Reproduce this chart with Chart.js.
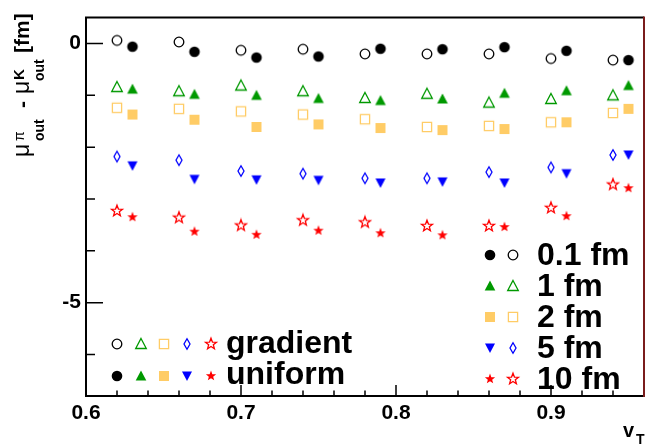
<!DOCTYPE html>
<html>
<head>
<meta charset="utf-8">
<script src="https://cdn.jsdelivr.net/npm/chart.js@4/dist/chart.umd.min.js"></script>
<style>
  html, body { margin: 0; padding: 0; background: #fff; }
  #wrap { width: 651px; height: 445px; }
</style>
</head>
<body>
<div id="wrap"><canvas id="chart" width="651" height="445"></canvas></div>
<script>
// v_T positions: gradient points sit left, uniform points right
const vtGradient = [0.62, 0.66, 0.70, 0.74, 0.78, 0.82, 0.86, 0.90, 0.94];
const vtUniform = [0.63, 0.67, 0.71, 0.75, 0.79, 0.83, 0.87, 0.91, 0.95];

// mu_out(pi) - mu_out(K) in fm
const grad01 = [0.06, 0.03, -0.13, -0.11, -0.20, -0.20, -0.20, -0.29, -0.32];
const unif01 = [-0.06, -0.16, -0.27, -0.25, -0.10, -0.11, -0.07, -0.14, -0.32];
const grad1 = [-0.84, -0.92, -0.81, -0.92, -1.05, -0.97, -1.14, -1.07, -1.00];
const unif1 = [-0.88, -0.98, -1.00, -1.06, -1.10, -1.07, -0.96, -0.91, -0.81];
const grad2 = [-1.24, -1.26, -1.31, -1.37, -1.46, -1.61, -1.59, -1.52, -1.34];
const unif2 = [-1.37, -1.47, -1.61, -1.56, -1.63, -1.67, -1.65, -1.52, -1.26];
const grad5 = [-2.18, -2.25, -2.46, -2.51, -2.60, -2.60, -2.48, -2.39, -2.15];
const unif5 = [-2.36, -2.62, -2.63, -2.64, -2.69, -2.67, -2.69, -2.51, -2.15];
const grad10 = [-3.23, -3.36, -3.51, -3.41, -3.45, -3.52, -3.52, -3.17, -2.72];
const unif10 = [-3.35, -3.63, -3.69, -3.61, -3.66, -3.70, -3.54, -3.33, -2.79];

const sizeLabels = ["0.1 fm", "1 fm", "2 fm", "5 fm", "10 fm"];
const modelLabels = ["gradient", "uniform"];
const xTickLabels = ["0.6", "0.7", "0.8", "0.9"];
const yTickLabels = ["0", "-5"];

const FONT = '"Liberation Sans", Arial, Helvetica, sans-serif';
const colors = ["#000000", "#009900", "#ffcc66", "#0000ff", "#ff0000"];

function makeMarker(shape, color, filled) {
    const c = document.createElement("canvas");
    c.width = 16;
    c.height = 16;
    const g = c.getContext("2d");
    g.translate(8, 8);
    g.strokeStyle = color;
    g.fillStyle = color;
    g.lineWidth = 1.3;
    g.beginPath();
    if (shape === "circle") {
        g.arc(0, 0, filled ? 5.3 : 4.8, 0, Math.PI * 2);
    } else if (shape === "triangle") {
        g.moveTo(0, -5.5);
        g.lineTo(5.3, 4.5);
        g.lineTo(-5.3, 4.5);
        g.closePath();
    } else if (shape === "square") {
        if (filled) g.rect(-5, -5, 10, 10);
        else g.rect(-4.6, -4.6, 9.2, 9.2);
    } else if (shape === "diamond") {
        g.moveTo(0, -5.3);
        g.lineTo(3, 0);
        g.lineTo(0, 5.3);
        g.lineTo(-3, 0);
        g.closePath();
    } else if (shape === "down") {
        g.moveTo(-5, -4.5);
        g.lineTo(5, -4.5);
        g.lineTo(0, 5);
        g.closePath();
    } else if (shape === "star") {
        const ro = filled ? 5.4 : 5.8;
        const ri = ro * 0.42;
        for (let i = 0; i < 10; i++) {
            const r = i % 2 ? ri : ro;
            const a = -Math.PI / 2 + (i * Math.PI) / 5;
            if (i === 0) g.moveTo(r * Math.cos(a), r * Math.sin(a));
            else g.lineTo(r * Math.cos(a), r * Math.sin(a));
        }
        g.closePath();
    }
    if (filled) g.fill();
    else g.stroke();
    return c;
}

const openMarkers = [
    makeMarker("circle", colors[0], false),
    makeMarker("triangle", colors[1], false),
    makeMarker("square", colors[2], false),
    makeMarker("diamond", colors[3], false),
    makeMarker("star", colors[4], false),
];
const filledMarkers = [
    makeMarker("circle", colors[0], true),
    makeMarker("triangle", colors[1], true),
    makeMarker("square", colors[2], true),
    makeMarker("down", colors[3], true),
    makeMarker("star", colors[4], true),
];

const gradientSeries = [grad01, grad1, grad2, grad5, grad10];
const uniformSeries = [unif01, unif1, unif2, unif5, unif10];

function toPoints(xs, ys) {
    return ys.map((y, i) => ({ x: xs[i], y }));
}

const datasets = [];
sizeLabels.forEach((label, i) => {
    datasets.push({
        label: label + " gradient",
        data: toPoints(vtGradient, gradientSeries[i]),
        pointStyle: openMarkers[i],
        pointRadius: 6,
        showLine: false,
    });
    datasets.push({
        label: label + " uniform",
        data: toPoints(vtUniform, uniformSeries[i]),
        pointStyle: filledMarkers[i],
        pointRadius: 6,
        showLine: false,
    });
});

const isMajorX = (v) => Math.abs(v * 10 - Math.round(v * 10)) < 1e-6;
const isInt = (v) => Math.abs(v - Math.round(v)) < 1e-6;

const decorations = {
    id: "decorations",
    afterDraw(chart) {
        const ctx = chart.ctx;
        const { left, right, top, bottom } = chart.chartArea;
        const xs = chart.scales.x;
        const ys = chart.scales.y;
        ctx.save();

        // tick marks inside the frame
        ctx.strokeStyle = "#000";
        ctx.lineWidth = 1.5;
        ctx.beginPath();
        xs.ticks.forEach((t) => {
            const px = xs.getPixelForValue(t.value);
            if (px <= left + 1 || px >= right - 1) return;
            const len = isMajorX(t.value) ? 11 : 5.5;
            ctx.moveTo(px, bottom);
            ctx.lineTo(px, bottom - len);
        });
        ys.ticks.forEach((t) => {
            if (!isInt(t.value)) return;
            const py = ys.getPixelForValue(t.value);
            const len = t.value % 5 === 0 ? 17 : 9;
            ctx.moveTo(left, py);
            ctx.lineTo(left + len, py);
        });
        ctx.stroke();

        // frame
        ctx.lineWidth = 2;
        ctx.strokeStyle = "#000";
        ctx.beginPath();
        ctx.moveTo(right, top);
        ctx.lineTo(left, top);
        ctx.lineTo(left, bottom);
        ctx.lineTo(right, bottom);
        ctx.stroke();
        ctx.strokeStyle = "#7a1c1c";
        ctx.beginPath();
        ctx.moveTo(right, top - 1);
        ctx.lineTo(right, bottom + 1);
        ctx.stroke();

        // y axis title, rotated
        ctx.fillStyle = "#000";
        ctx.textBaseline = "alphabetic";
        ctx.textAlign = "left";
        ctx.save();
        ctx.translate(28.5, 157);
        ctx.rotate(-Math.PI / 2);
        ctx.font = "23px " + FONT;
        ctx.fillText("\u03bc", 0, 0);
        ctx.fillText("\u03bc", 63, 0);
        ctx.font = "14px " + FONT;
        ctx.fillText("\u03c0", 16, -5);
        ctx.font = "bold 15px " + FONT;
        ctx.fillText("K", 77, -5);
        ctx.font = "bold 14px " + FONT;
        ctx.fillText("out", 16, 15);
        ctx.fillText("out", 76, 15);
        ctx.font = "bold 21px " + FONT;
        ctx.fillText("-", 49, 0);
        ctx.fillText("[fm]", 104, 0);
        ctx.restore();

        // x axis title
        ctx.font = "bold 20px " + FONT;
        ctx.fillText("v", 623, 437);
        ctx.font = "bold 14px " + FONT;
        ctx.fillText("T", 636, 444);

        // legend: model rows (bottom left)
        const rowY = [344, 376];
        const rowMarkers = [openMarkers, filledMarkers];
        const colX = [117, 141, 164, 187, 211];
        rowMarkers.forEach((set, r) => {
            set.forEach((m, i) => ctx.drawImage(m, colX[i] - 8, rowY[r] - 8));
        });
        ctx.font = "bold 32px " + FONT;
        ctx.fillText(modelLabels[0], 226, 353);
        ctx.fillText(modelLabels[1], 226, 384);

        // legend: size rows (right)
        const sizeY = [255, 286, 317, 348, 379];
        ctx.font = "bold 32px " + FONT;
        sizeLabels.forEach((label, i) => {
            ctx.drawImage(filledMarkers[i], 490 - 8, sizeY[i] - 8);
            ctx.drawImage(openMarkers[i], 513 - 8, sizeY[i] - 8);
            ctx.fillText(label, 537, sizeY[i] + 10);
        });

        ctx.restore();
    },
};

new Chart(document.getElementById("chart"), {
    type: "scatter",
    data: { datasets },
    plugins: [decorations],
    options: {
        responsive: false,
        animation: false,
        devicePixelRatio: 1,
        layout: { padding: { top: 12, right: 6, left: 0, bottom: 0 } },
        plugins: { legend: { display: false }, tooltip: { enabled: false } },
        events: [],
        scales: {
            x: {
                type: "linear",
                min: 0.6,
                max: 0.96,
                grid: { display: false, drawTicks: false, tickLength: 0 },
                border: { display: false },
                ticks: {
                    stepSize: 0.02,
                    autoSkip: false,
                    maxRotation: 0,
                    padding: 5,
                    color: "#000",
                    font: { family: FONT, size: 21, weight: "bold" },
                    callback: (v) => {
                        if (!isMajorX(v)) return "";
                        const s = v.toFixed(1);
                        return xTickLabels.includes(s) ? s : "";
                    },
                },
                afterFit: (scale) => { scale.height = 49; },
            },
            y: {
                type: "linear",
                min: -6.8,
                max: 0.5,
                grid: { display: false, drawTicks: false, tickLength: 0 },
                border: { display: false },
                ticks: {
                    stepSize: 1,
                    autoSkip: false,
                    padding: 5,
                    color: "#000",
                    font: { family: FONT, size: 21, weight: "bold" },
                    callback: (v) => {
                        if (!isInt(v)) return "";
                        const s = String(Math.round(v));
                        return yTickLabels.includes(s) ? s : "";
                    },
                },
                afterFit: (scale) => { scale.width = 86; },
            },
        },
    },
});
</script>
</body>
</html>
